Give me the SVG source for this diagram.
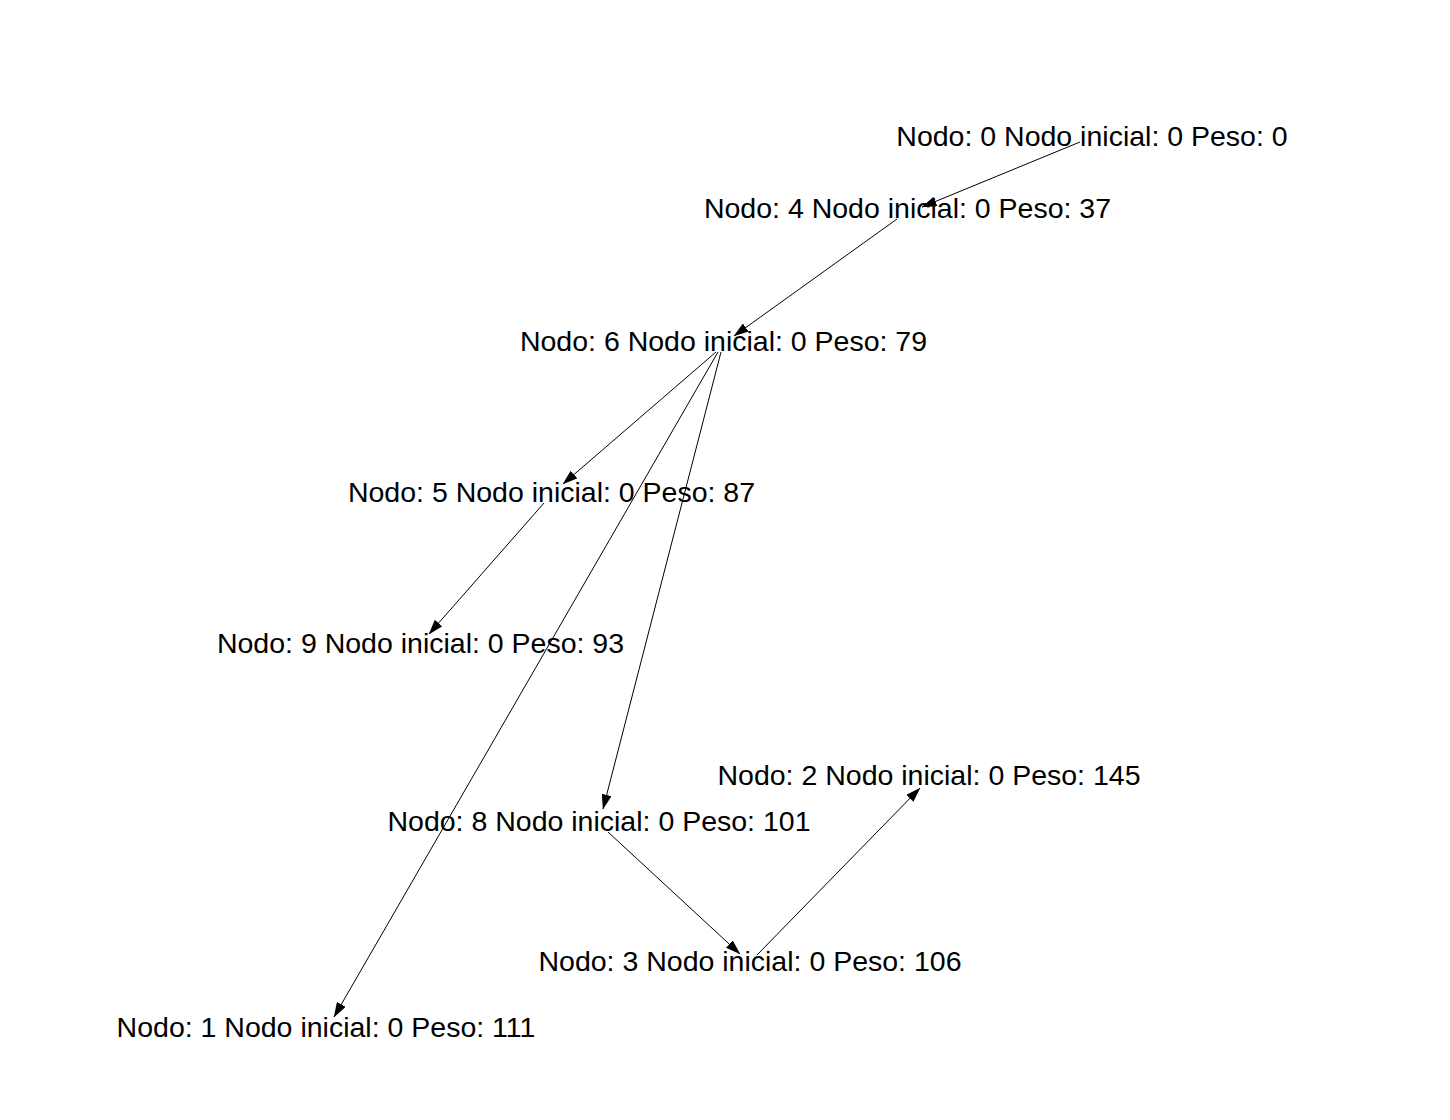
<svg xmlns="http://www.w3.org/2000/svg" width="1450" height="1120" viewBox="0 0 1450 1120">
<style>
.lbl{font-family:"Liberation Sans",Arial,sans-serif;font-size:28.5px;fill:#000;text-anchor:middle}
.edge{stroke:#000;stroke-width:1;fill:none;marker-end:url(#arr)}
</style>
<defs>
<marker id="arr" markerUnits="userSpaceOnUse" markerWidth="15" markerHeight="10" refX="14.5" refY="5" orient="auto" viewBox="0 0 15 10">
<path d="M0,0 L15,5 L0,10 z" fill="#000"/>
</marker>
</defs>
<rect width="1450" height="1120" fill="#fff"/>
<g id="edges">
<line class="edge" x1="1080" y1="142" x2="922" y2="207"/>
<line class="edge" x1="897" y1="219" x2="734" y2="336"/>
<line class="edge" x1="716" y1="352" x2="563" y2="484"/>
<line class="edge" x1="544" y1="503" x2="429" y2="634"/>
<line class="edge" x1="718" y1="352" x2="334" y2="1017"/>
<line class="edge" x1="721" y1="352" x2="603" y2="809"/>
<line class="edge" x1="608" y1="832" x2="740" y2="954"/>
<line class="edge" x1="757" y1="955" x2="920" y2="788"/>
</g>
<g id="node0"><text class="lbl" x="1092" y="146">Nodo: 0 Nodo inicial: 0 Peso: 0</text></g>
<g id="node4"><text class="lbl" x="907.5" y="218">Nodo: 4 Nodo inicial: 0 Peso: 37</text></g>
<g id="node6"><text class="lbl" x="723.5" y="351">Nodo: 6 Nodo inicial: 0 Peso: 79</text></g>
<g id="node5"><text class="lbl" x="551.5" y="502">Nodo: 5 Nodo inicial: 0 Peso: 87</text></g>
<g id="node9"><text class="lbl" x="420.5" y="653">Nodo: 9 Nodo inicial: 0 Peso: 93</text></g>
<g id="node2"><text class="lbl" x="929" y="785">Nodo: 2 Nodo inicial: 0 Peso: 145</text></g>
<g id="node8"><text class="lbl" x="599" y="831">Nodo: 8 Nodo inicial: 0 Peso: 101</text></g>
<g id="node3"><text class="lbl" x="750" y="971">Nodo: 3 Nodo inicial: 0 Peso: 106</text></g>
<g id="node1"><text class="lbl" x="326" y="1037">Nodo: 1 Nodo inicial: 0 Peso: 111</text></g>
</svg>
